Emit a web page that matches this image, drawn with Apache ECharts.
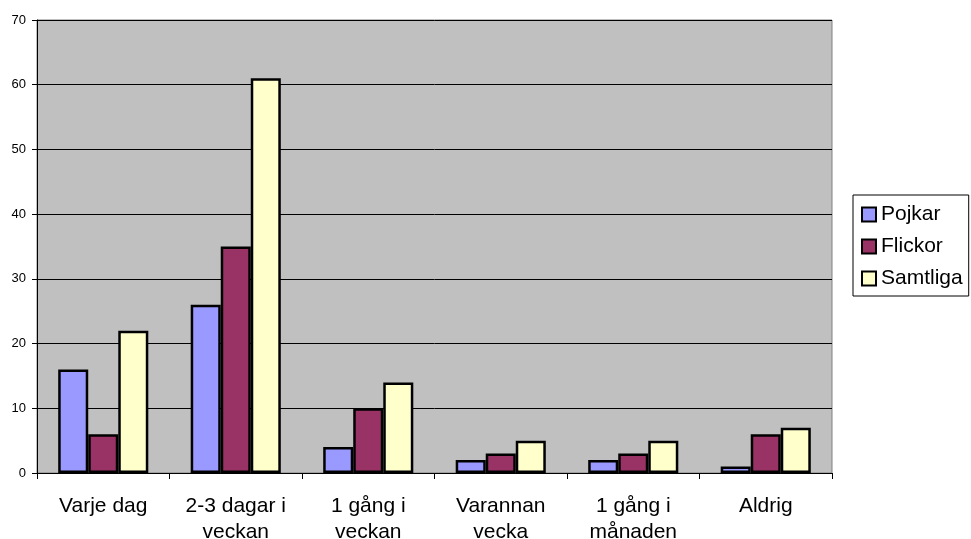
<!DOCTYPE html>
<html>
<head>
<meta charset="utf-8">
<style>
  html, body { margin: 0; padding: 0; background: #ffffff; }
  #chart { width: 971px; height: 539px; }
</style>
<script src="https://cdn.jsdelivr.net/npm/echarts@6/dist/echarts.min.js"></script>
</head>
<body>
<div id="chart"></div>
<script>
// Answer categories
const categories = ['Varje dag', '2-3 dagar i\nveckan', '1 gång i\nveckan', 'Varannan\nvecka', '1 gång i\nmånaden', 'Aldrig'];

// Values per group
const pojkar = [16, 26, 4, 2, 2, 1];
const flickor = [6, 35, 10, 3, 3, 6];
const samtliga = [22, 61, 14, 5, 5, 7];

const seriesNames = ['Pojkar', 'Flickor', 'Samtliga'];
const seriesColors = ['#9999ff', '#993366', '#ffffcc'];
const seriesData = [pojkar, flickor, samtliga];

const font = 'Liberation Sans, Arial, sans-serif';

const chart = echarts.init(document.getElementById('chart'), null, { renderer: 'canvas' });

chart.setOption({
  animation: false,
  backgroundColor: '#ffffff',
  textStyle: { fontFamily: font },
  grid: {
    left: 37, top: 20, right: 139, bottom: 66,
    outerBoundsMode: 'none',
    containLabel: false,
    show: true,
    backgroundColor: '#c0c0c0',
    borderColor: '#808080',
    borderWidth: 1
  },
  legend: {
    orient: 'vertical',
    left: 853,
    top: 195,
    padding: [9, 6, 7, 8],
    itemGap: 11,
    itemWidth: 14,
    itemHeight: 14,
    icon: 'rect',
    borderColor: '#000000',
    borderWidth: 1,
    backgroundColor: '#ffffff',
    itemStyle: { borderColor: '#000000', borderWidth: 2 },
    textStyle: { fontFamily: font, fontSize: 21, color: '#000000' },
    data: seriesNames
  },
  xAxis: {
    type: 'category',
    data: categories,
    axisLine: { lineStyle: { color: '#000000', width: 1 } },
    axisTick: { show: true, length: 6, lineStyle: { color: '#000000' } },
    axisLabel: {
      fontFamily: font, fontSize: 21, color: '#000000',
      margin: 20, lineHeight: 26, interval: 0
    }
  },
  yAxis: {
    type: 'value',
    min: 0, max: 70, interval: 10,
    axisLine: { show: true, lineStyle: { color: '#000000', width: 1 } },
    axisTick: { show: true, length: 5, lineStyle: { color: '#000000' } },
    axisLabel: { fontFamily: font, fontSize: 13, color: '#000000', margin: 11 },
    splitLine: { show: true, lineStyle: { color: '#000000', width: 1 } }
  },
  series: seriesNames.map((name, i) => ({
    name: name,
    type: 'bar',
    data: seriesData[i],
    barGap: '0%',
    barCategoryGap: '32%',
    itemStyle: { color: seriesColors[i], borderColor: '#000000', borderWidth: 2.5 }
  }))
});
</script>
</body>
</html>
